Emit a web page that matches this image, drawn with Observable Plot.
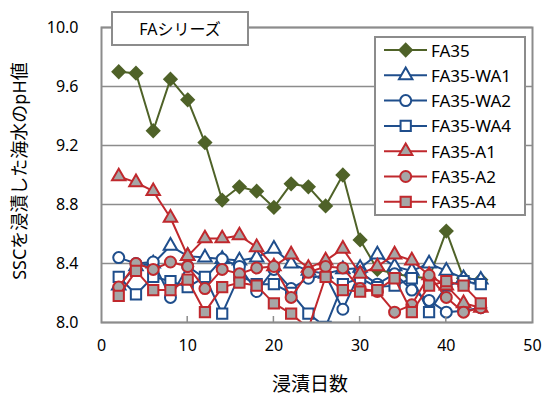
<!DOCTYPE html>
<html><head><meta charset="utf-8">
<script src="https://cdn.jsdelivr.net/npm/d3@7"></script>
<script src="https://cdn.jsdelivr.net/npm/@observablehq/plot@0.6"></script>
<style>body{margin:0;background:#fff}#chart{width:542px;height:396px}</style>
</head><body><div id="chart"></div>
<script>
const days = [2,4,6,8,10,12,14,16,18,20,22,24,26,28,30,32,34,36,38,40,42,44];
const FA35   = [9.70,9.69,9.30,9.65,9.51,9.22,8.83,8.92,8.89,8.78,8.94,8.92,8.79,9.00,8.56,8.36,8.33,8.31,8.30,8.62,8.30,8.29];
const FA35_WA1 = [8.25,8.38,8.40,8.52,8.45,8.44,8.43,8.42,8.44,8.50,8.40,8.35,8.33,8.36,8.37,8.46,8.38,8.35,8.40,8.35,8.30,8.29];
const FA35_WA2 = [8.44,8.40,8.41,8.17,8.38,8.30,8.43,8.38,8.21,8.36,8.23,8.30,8.32,8.09,8.34,8.26,8.33,8.22,8.15,8.07,8.08,8.10];
const FA35_WA4 = [8.31,8.19,8.31,8.28,8.24,8.31,8.06,8.32,8.26,8.26,8.20,8.06,7.97,8.26,8.30,8.24,8.25,8.30,8.07,8.25,8.28,8.26];
const FA35_A1  = [8.99,8.95,8.89,8.71,8.45,8.57,8.57,8.59,8.51,8.38,8.46,8.37,8.42,8.50,8.33,8.38,8.46,8.42,8.32,8.25,8.13,8.10];
const FA35_A2  = [8.24,8.40,8.36,8.41,8.38,8.23,8.36,8.33,8.37,8.38,8.17,8.34,8.38,8.37,8.23,8.21,8.07,8.12,8.32,8.17,8.07,8.10];
const FA35_A4  = [8.18,8.35,8.22,8.22,8.29,8.07,8.24,8.27,8.25,8.13,8.06,7.96,8.31,8.22,8.21,8.22,8.30,8.07,8.25,8.28,8.25,8.13];

const seriesNames = ["FA35","FA35-WA1","FA35-WA2","FA35-WA4","FA35-A1","FA35-A2","FA35-A4"];
const seriesValues = [FA35,FA35_WA1,FA35_WA2,FA35_WA4,FA35_A1,FA35_A2,FA35_A4];
const yTicks = [8.0,8.4,8.8,9.2,9.6,10.0];
const xTicks = [0,10,20,30,40,50];
const innerTicks = [10,20,30,40];
const titleText = "FAシリーズ";
const xLabel = "浸漬日数";
const yLabel = "SSCを浸漬した海水のpH値";

const GREEN = "#4f6228", BLUE = "#1f4e8c", RED = "#c0282d", GRAY = "#a6a6a6", AX = "#8c8c8c";
const styles = [
  {stroke: GREEN, fill: GREEN, symbol: "diamond2", r: 5.6},
  {stroke: BLUE, fill: "white", symbol: "triangle", r: 5},
  {stroke: BLUE, fill: "white", symbol: "circle", r: 5.5},
  {stroke: BLUE, fill: "white", symbol: "square", r: 5.8},
  {stroke: RED, fill: GRAY, symbol: "triangle", r: 5},
  {stroke: RED, fill: GRAY, symbol: "circle", r: 5.5},
  {stroke: RED, fill: GRAY, symbol: "square", r: 5.8}
];

const font = "'Noto Sans', 'Noto Sans CJK JP', sans-serif";
const seriesMarks = [];
seriesNames.forEach((name, i) => {
  const rows = days.map((d, j) => ({day: d, value: seriesValues[i][j], series: name}));
  const s = styles[i];
  seriesMarks.push(Plot.line(rows, {x: "day", y: "value", stroke: s.stroke, strokeWidth: 2, clip: true}));
  seriesMarks.push(Plot.dot(rows, {x: "day", y: "value", symbol: () => s.symbol, r: s.r, fill: s.fill, stroke: s.stroke, strokeWidth: 2, clip: true}));
});

const chart = Plot.plot({
  width: 542, height: 396,
  marginLeft: 101, marginRight: 10, marginTop: 27, marginBottom: 74,
  style: {fontFamily: font, fontSize: "16px", color: "#000", background: "white"},
  x: {domain: [0, 50]},
  y: {domain: [8, 10]},
  symbol: {type: "identity"},
  marks: [
    Plot.ruleY(yTicks, {stroke: AX, strokeWidth: 1.5}),
    Plot.axisY({ticks: yTicks, tickSize: 0, tickPadding: 23, tickFormat: d3.format(".1f"), label: null, fontSize: 16}),
    Plot.axisX({ticks: xTicks, tickSize: 0, tickPadding: 17, label: null, fontSize: 16}),
    ...seriesMarks,
    Plot.frame({stroke: AX, strokeWidth: 2})
  ]
});
document.getElementById("chart").appendChild(chart);

const svg = d3.select(chart);
const sx = chart.scale("x"), sy = chart.scale("y");
// inward x ticks
svg.append("g").selectAll("line").data(innerTicks).join("line")
  .attr("x1", d => sx.apply(d)).attr("x2", d => sx.apply(d))
  .attr("y1", sy.apply(8)).attr("y2", sy.apply(8) - 6)
  .attr("stroke", AX).attr("stroke-width", 1.5);

// axis titles
svg.append("text").text(xLabel)
  .attr("x", 310).attr("y", 384).attr("text-anchor", "middle").attr("dominant-baseline", "central")
  .style("font-family", font).style("font-size", "19px").attr("fill", "#000");
svg.append("text").text(yLabel)
  .attr("transform", "translate(19,171) rotate(-90)").attr("text-anchor", "middle").attr("dominant-baseline", "central")
  .style("font-family", font).style("font-size", "18px").attr("fill", "#000");

// title box
svg.append("rect").attr("x", 112).attr("y", 12).attr("width", 136).attr("height", 33)
  .attr("fill", "white").attr("stroke", AX).attr("stroke-width", 2);
svg.append("text").text(titleText).attr("x", 180).attr("y", 29)
  .attr("text-anchor", "middle").attr("dominant-baseline", "central")
  .style("font-family", font).style("font-size", "16px").attr("fill", "#000");

// legend
const lg = svg.append("g");
lg.append("rect").attr("x", 375).attr("y", 37).attr("width", 150).attr("height", 178)
  .attr("fill", "white").attr("stroke", AX).attr("stroke-width", 2);
const symMap = {diamond2: d3.symbolDiamond2, triangle: d3.symbolTriangle, circle: d3.symbolCircle, square: d3.symbolSquare};
seriesNames.forEach((name, i) => {
  const cy = 50 + i * 25.3, s = styles[i];
  lg.append("line").attr("x1", 384).attr("x2", 427).attr("y1", cy).attr("y2", cy)
    .attr("stroke", s.stroke).attr("stroke-width", 2);
  lg.append("path").attr("d", d3.symbol(symMap[s.symbol], Math.PI * s.r * s.r)())
    .attr("transform", `translate(405.7,${cy})`)
    .attr("fill", s.fill).attr("stroke", s.stroke).attr("stroke-width", 2);
  lg.append("text").text(name).attr("x", 431).attr("y", cy)
    .attr("text-anchor", "start").attr("dominant-baseline", "central")
    .style("font-family", font).style("font-size", "17px").attr("fill", "#000");
});
</script></body></html>
